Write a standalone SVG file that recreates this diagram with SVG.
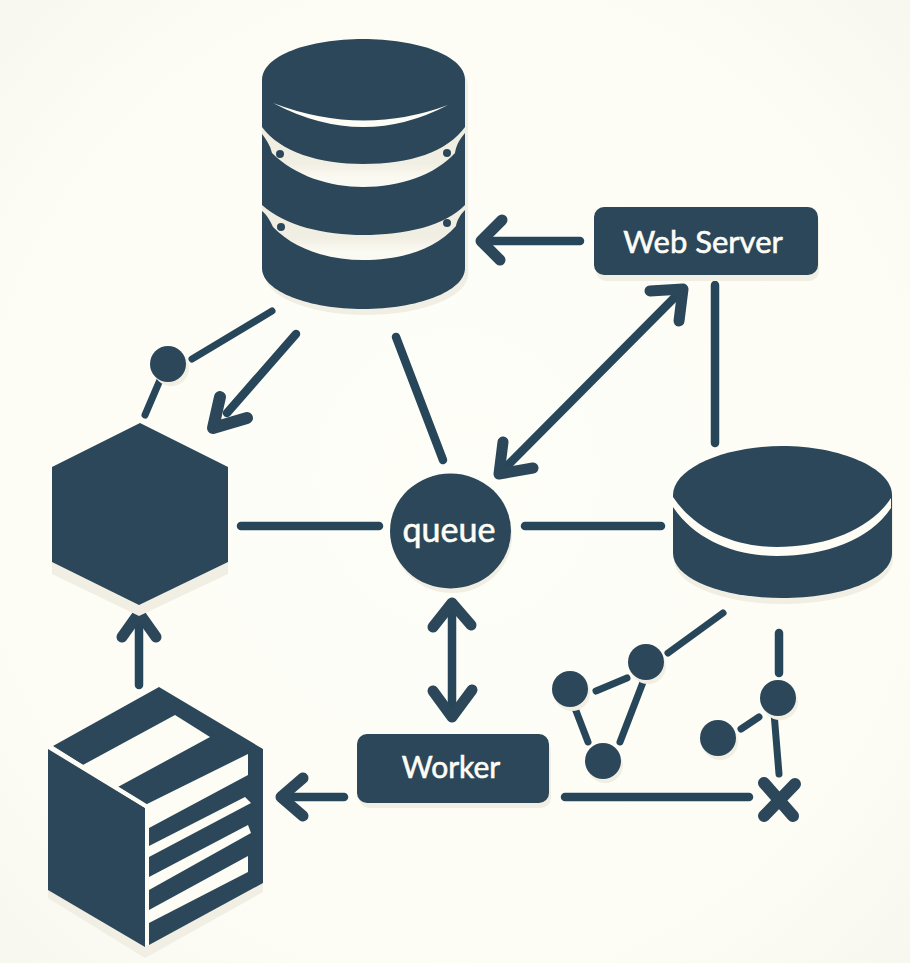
<svg xmlns="http://www.w3.org/2000/svg" width="910" height="963" viewBox="0 0 910 963">
<defs>
<radialGradient id="bg" cx="50%" cy="50%" r="72%"><stop offset="0" stop-color="#fefef8"/><stop offset="0.7" stop-color="#fdfdf6"/><stop offset="1" stop-color="#f7f7f0"/></radialGradient>
<linearGradient id="band" x1="0" y1="0" x2="0" y2="1"><stop offset="0" stop-color="#efece0"/><stop offset="0.6" stop-color="#f1eee3"/><stop offset="0.85" stop-color="#fbfaf2"/></linearGradient>
</defs>
<style>
.d{fill:#2b4759}
.c{fill:url(#band)}
.w{fill:#fdfdf6}
.s{fill:#f1eee4}
.l{fill:none;stroke:#28465a;stroke-linecap:round;stroke-linejoin:round;stroke-width:8.5}
.t{stroke-width:7}
.h{fill:none;stroke:#2b4759;stroke-linecap:round;stroke-linejoin:round;stroke-width:11}
text{font-family:"Lato","Noto Sans",sans-serif;fill:#fdfdf6;stroke:#fdfdf6;stroke-width:0.6;text-anchor:middle}
</style>
<rect width="910" height="963" fill="url(#bg)"/>
<g id="connectors">
<path class="l" d="M580 241H490"/><path class="h" d="M502 220L481 241L500 260"/>
<path class="l" d="M396 337L443 460"/>
<path class="l" d="M677 295L505 468"/><path class="h" d="M650 291L683 289L679 321"/><path class="h" d="M503 442L499 474L533 468"/>
<path class="l" d="M715 285V443"/>
<path class="l" d="M241 526H379"/>
<path class="l" d="M525 526H661"/>
<path class="l" d="M452 610V712"/><path class="h" d="M433 627L452 603L471 625"/><path class="h" d="M433 691L452 717L472 690"/>
<path class="l" d="M344 797H290"/><path class="h" d="M303 778L281 797L303 816"/>
<path class="l" d="M139 685V618"/><path class="h" d="M122 637L139 613L156 637"/>
<path class="l t" d="M192 359L272 311"/>
<path class="l t" d="M160 380L145 415"/>
<path class="l" d="M296 334L227 413"/><path class="h" d="M220 397L213 428L247 418" style="stroke-width:12"/>
<path class="l t" d="M668 653L723 613"/>
<path class="l t" d="M596 691L627 678"/>
<path class="l t" d="M573 703L588 742"/>
<path class="l t" d="M645 677L620 742"/>
<path class="l" d="M779 633V673"/>
<path class="l t" d="M741 729L759 717"/>
<path class="l t" d="M774 713L779 774"/>
<path class="l" d="M565 797H749"/>
<path class="h" d="M764 783L793 816M795 784L764 816" style="stroke-width:12"/>
</g>
<g id="database">
<path class="s" transform="translate(3 6)" d="M262 80C262 55 310 39 363 39C416 39 465 55 465 80V268C465 292 416 309 363 309C310 309 262 292 262 268Z"/>
<path class="d" d="M262 80C262 55 310 39 363 39C416 39 465 55 465 80V268C465 292 416 309 363 309C310 309 262 292 262 268Z"/>
<path class="w" d="M273 103Q362 137 448 105Q362 150 273 103Z"/>
<path class="c" d="M262 127C280 152 320 164 363 164C410 164 447 152 465 127V133C458 141 456 147 455 153C435 175 400 187 363 187C330 187 295 176 272 153C270 145 266 139 262 134Z"/>
<path class="c" d="M262 205C285 226 325 235 363 235C405 235 445 226 465 205V210C459 216 457 221 456 226C435 250 400 260 363 260C330 260 295 250 273 227C270 220 266 214 262 211Z"/>
<circle class="d" cx="280" cy="154" r="4"/><circle class="d" cx="447" cy="153" r="4"/>
<circle class="d" cx="281" cy="227" r="4"/><circle class="d" cx="447" cy="223" r="4"/>
</g>
<g id="webserver"><rect class="s" x="596" y="213" width="223" height="68" rx="10"/><rect class="d" x="594" y="207" width="224" height="68" rx="10"/><text x="703" y="253" font-size="31">Web Server</text></g>
<g id="hexagon"><path class="s" d="M52 562V574L139 616L228 574V562Z"/><path class="d" d="M140 423L228 467V562L139 605L52 562V467Z"/></g>
<g id="queue"><ellipse class="s" cx="452" cy="536" rx="60" ry="57"/><ellipse class="d" cx="450.500" cy="531" rx="60.500" ry="57.500"/><text x="449" y="542" font-size="34">queue</text></g>
<g id="disk">
<path class="s" transform="translate(1 6)" d="M673 495C673 468 725 446 782 446C840 446 892 468 892 495V553C892 580 840 598 782 598C725 598 673 580 673 553Z"/>
<path class="d" d="M673 495C673 468 725 446 782 446C840 446 892 468 892 495V553C892 580 840 598 782 598C725 598 673 580 673 553Z"/>
<path class="w" d="M673 497C695 530 735 547 777 547C825 547 870 530 891 498V508C870 540 825 556 777 556C735 556 695 540 673 507Z"/>
</g>
<g id="worker"><rect class="s" x="359" y="740" width="192" height="68" rx="10"/><rect class="d" x="357" y="734" width="192" height="69" rx="10"/><text x="451" y="778" font-size="30">Worker</text></g>
<g id="cube">
<path class="s" d="M48 885V898L145 958L263 892V880Z"/>
<path class="d" d="M48 749L145 808V947L48 890Z"/>
<path class="d" d="M53 746L159 687L263 749V883L149 945V812L145 804Z"/>
<path class="w" d="M81 766L175 715L210 737L116 788Z"/>
<path class="w" d="M145 805L248 754V775L149 828V945H145Z"/>
<path class="w" d="M149 846L245 797L251 803L149 857Z"/>
<path class="w" d="M149 877L248 825L251 833L149 890Z"/>
<path class="w" d="M149 910L248 856V872L149 923Z"/>
<path d="M50 747L146 806" stroke="#fdfdf6" stroke-width="4" fill="none"/>
</g>
<g id="n1"><circle class="s" cx="171" cy="368" r="18"/><circle class="d" cx="168" cy="364" r="18"/></g>
<g id="n2"><circle class="s" cx="572" cy="693" r="18"/><circle class="d" cx="570" cy="689" r="18"/></g>
<g id="n3"><circle class="s" cx="648" cy="666" r="18"/><circle class="d" cx="646" cy="662" r="18"/></g>
<g id="n4"><circle class="s" cx="605" cy="765" r="18"/><circle class="d" cx="603" cy="761" r="18"/></g>
<g id="n5"><circle class="s" cx="780" cy="702" r="18"/><circle class="d" cx="778" cy="698" r="18"/></g>
<g id="n6"><circle class="s" cx="720" cy="742" r="18"/><circle class="d" cx="718" cy="738" r="18"/></g>
</svg>
